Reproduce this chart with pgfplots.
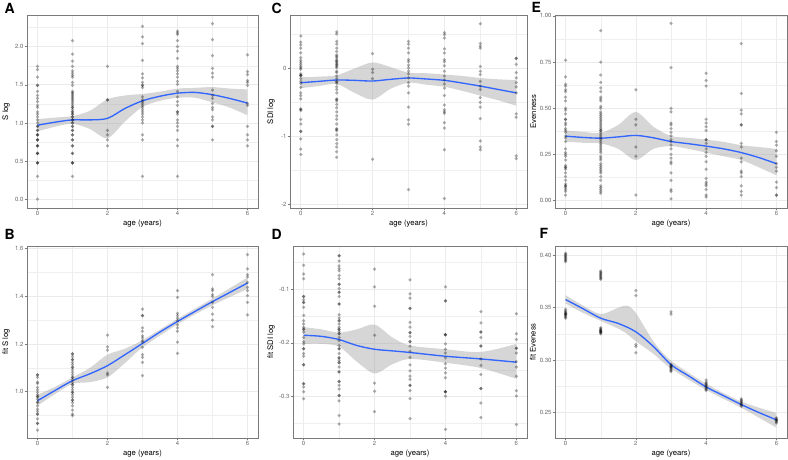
\documentclass[border=0pt]{standalone}
\usepackage{fontspec}
\setmainfont{TeX Gyre Heros}
\usepackage{pgfplots}
\pgfplotsset{compat=1.18}
\usepgfplotslibrary{fillbetween}
\definecolor{smoothblue}{HTML}{3366FF}
\definecolor{gridgray}{HTML}{EBEBEB}
\definecolor{bordergray}{HTML}{7A7A7A}
\definecolor{ticktext}{HTML}{6A6A6A}
\pgfplotsset{
  panel/.style={
    scale only axis, anchor=south west,
    xmin=-0.3, xmax=6.3,
    xtick={0,2,4,6}, xticklabels={0,2,4,6},
    minor xtick={1,3,5},
    grid=both,
    major grid style={draw=gridgray, line width=0.6pt},
    minor grid style={draw=gridgray!80, line width=0.35pt},
    axis line style={draw=bordergray, line width=0.65pt},
    tick style={draw=bordergray, line width=0.5pt},
    tick align=outside, major tick length=2.5pt, minor tick length=0pt,
    tick pos=left,
    tick label style={font=\fontsize{6}{6}\selectfont, text=ticktext, inner sep=0.8pt},
    label style={font=\fontsize{7.7}{8}\selectfont, text=black},
    xlabel={age (years)},
    xlabel style={at={(axis description cs:0.5,0)}, anchor=center, yshift=-15.5pt},
  },
  pts/.style={only marks, mark=*, mark size=1.75pt, color=black, mark options={draw opacity=0, fill=black, fill opacity=0.32}},
  fit/.style={smooth, draw=smoothblue, line width=1.35pt},
  band/.style={fill=black!40, fill opacity=0.4, draw=none},
  bound/.style={smooth, draw=none, forget plot},
}
\newcommand{\plab}[3]{\node[anchor=base west, inner sep=0pt, font=\fontsize{14}{14}\selectfont\bfseries] at (#1pt,#2pt) {#3};}
\begin{document}
\begin{tikzpicture}
% ---------------- A ----------------
\begin{axis}[panel, at={(27pt,252pt)}, width=231pt, height=193pt,
  ymin=-0.115, ymax=2.415,
  ytick={0,0.5,1,1.5,2}, yticklabels={0.0,0.5,1.0,1.5,2.0},
  minor ytick={0.25,0.75,1.25,1.75,2.25},
  ylabel={S log}, ylabel style={at={(axis description cs:-0.091,0.5)}, anchor=center}]
\addplot[pts] coordinates {
(0,0)(0,0.301)(0,0.477)(0,0.477)(0,0.477)(0,0.602)(0,0.602)(0,0.602)(0,0.699)(0,0.699)(0,0.699)(0,0.778)(0,0.778)(0,0.778)(0,0.845)(0,0.845)(0,0.845)(0,0.903)(0,0.903)(0,0.954)(0,0.954)(0,1.0)(0,1.041)(0,1.079)(0,1.114)(0,1.146)(0,1.204)(0,1.23)(0,1.279)(0,1.322)(0,1.362)(0,1.415)(0,1.491)(0,1.491)(0,1.602)(0,1.699)(0,1.74)
(1,0.301)(1,0.477)(1,0.477)(1,0.477)(1,0.602)(1,0.602)(1,0.699)(1,0.699)(1,0.778)(1,0.778)(1,0.845)(1,0.845)(1,0.903)(1,0.903)(1,0.954)(1,0.954)(1,1.0)(1,1.0)(1,1.041)(1,1.041)(1,1.079)(1,1.079)(1,1.114)(1,1.114)(1,1.146)(1,1.146)(1,1.176)(1,1.204)(1,1.204)(1,1.23)(1,1.255)(1,1.279)(1,1.301)(1,1.322)(1,1.342)(1,1.362)(1,1.38)(1,1.398)(1,1.415)(1,1.491)(1,1.531)(1,1.602)(1,1.623)(1,1.653)(1,1.681)(1,1.74)(1,1.81)(1,1.903)(1,2.079)
(2,0.699)(2,0.778)(2,0.845)(2,0.903)(2,1.301)(2,1.301)(2,1.74)
(3,0.301)(3,0.778)(3,0.845)(3,1.0)(3,1.041)(3,1.079)(3,1.114)(3,1.146)(3,1.176)(3,1.204)(3,1.23)(3,1.255)(3,1.279)(3,1.301)(3,1.342)(3,1.462)(3,1.491)(3,1.491)(3,1.531)(3,1.591)(3,1.643)(3,1.82)(3,2.041)(3,2.127)(3,2.267)
(4,0.301)(4,0.699)(4,0.778)(4,0.903)(4,0.954)(4,1.0)(4,1.041)(4,1.114)(4,1.146)(4,1.146)(4,1.23)(4,1.279)(4,1.342)(4,1.415)(4,1.505)(4,1.544)(4,1.602)(4,1.643)(4,1.681)(4,1.716)(4,1.74)(4,1.845)(4,1.94)(4,2.0)(4,2.079)(4,2.161)(4,2.182)(4,2.204)
(5,0.778)(5,0.954)(5,0.954)(5,1.041)(5,1.079)(5,1.176)(5,1.204)(5,1.255)(5,1.322)(5,1.362)(5,1.431)(5,1.602)(5,1.653)(5,1.716)(5,1.881)(5,2.093)(5,2.301)
(6,0.699)(6,0.778)(6,0.845)(6,0.954)(6,1.23)(6,1.255)(6,1.491)(6,1.531)(6,1.556)(6,1.633)(6,1.672)(6,1.892)
};
\addplot[bound, name path=au] coordinates {(0,1.05)(0.5,1.07)(1,1.09)(1.5,1.16)(2,1.31)(2.5,1.36)(3,1.38)(3.5,1.41)(4,1.45)(4.5,1.46)(5,1.47)(5.5,1.45)(6,1.44)};
\addplot[bound, name path=al] coordinates {(0,0.89)(0.5,0.95)(1,0.99)(1.5,0.92)(2,0.80)(2.5,1.02)(3,1.21)(3.5,1.29)(4,1.33)(4.5,1.33)(5,1.27)(5.5,1.2)(6,1.10)};
\addplot[band] fill between[of=au and al];
\addplot[fit] coordinates {(0,0.97)(0.5,1.01)(1,1.04)(1.5,1.04)(2,1.06)(2.5,1.19)(3,1.29)(3.5,1.35)(4,1.39)(4.5,1.40)(5,1.37)(5.5,1.32)(6,1.26)};
\end{axis}
% ---------------- C ----------------
\begin{axis}[panel, at={(290pt,252pt)}, width=237pt, height=193pt,
  ymin=-2.06, ymax=0.79,
  ytick={-2,-1,0}, yticklabels={-2,-1,0},
  minor ytick={-1.5,-0.5,0.5},
  ylabel={SDI log}, ylabel style={at={(axis description cs:-0.080,0.5)}, anchor=center}]
\addplot[pts] coordinates {
(0,0.48)(0,0.39)(0,0.35)(0,0.3)(0,0.23)(0,0.16)(0,0.12)(0,0.09)(0,0.06)(0,0.03)(0,0.01)(0,-0.01)(0,-0.08)(0,-0.1)(0,-0.1)(0,-0.11)(0,-0.15)(0,-0.19)(0,-0.22)(0,-0.28)(0,-0.36)(0,-0.4)(0,-0.45)(0,-0.6)(0,-0.6)(0,-0.62)(0,-0.75)(0,-0.82)(0,-0.93)(0,-0.93)(0,-1.04)(0,-1.19)(0,-1.27)
(1,0.54)(1,0.51)(1,0.4)(1,0.36)(1,0.3)(1,0.25)(1,0.2)(1,0.18)(1,0.16)(1,0.13)(1,0.11)(1,0.1)(1,0.08)(1,0.06)(1,0.05)(1,0.03)(1,0.01)(1,-0.04)(1,-0.06)(1,-0.11)(1,-0.15)(1,-0.19)(1,-0.2)(1,-0.22)(1,-0.27)(1,-0.31)(1,-0.36)(1,-0.45)(1,-0.46)(1,-0.48)(1,-0.53)(1,-0.58)(1,-0.64)(1,-0.7)(1,-0.75)(1,-0.82)(1,-0.89)(1,-0.9)(1,-0.92)(1,-0.98)(1,-1.05)(1,-1.11)(1,-1.16)(1,-1.23)(1,-1.31)
(2,0.22)(2,-0.01)(2,-0.06)(2,-0.15)(2,-1.34)
(3,0.4)(3,0.36)(3,0.3)(3,0.23)(3,0.13)(3,0.1)(3,0.05)(3,0.01)(3,-0.04)(3,-0.08)(3,-0.14)(3,-0.21)(3,-0.26)(3,-0.36)(3,-0.57)(3,-0.76)(3,-0.82)(3,-1.79)
(4,0.53)(4,0.5)(4,0.45)(4,0.29)(4,0.23)(4,0.13)(4,0.1)(4,0.04)(4,-0.04)(4,-0.11)(4,-0.17)(4,-0.23)(4,-0.29)(4,-0.4)(4,-0.54)(4,-0.61)(4,-0.64)(4,-0.66)(4,-0.8)(4,-0.88)(4,-1.2)(4,-1.92)
(5,0.66)(5,0.37)(5,0.33)(5,0.3)(5,0.03)(5,-0.04)(5,-0.09)(5,-0.19)(5,-0.26)(5,-0.31)(5,-0.43)(5,-0.5)(5,-0.57)(5,-0.74)(5,-1.07)(5,-1.16)(5,-1.2)
(6,0.15)(6,0.15)(6,0.06)(6,-0.06)(6,-0.14)(6,-0.21)(6,-0.27)(6,-0.36)(6,-0.67)(6,-0.72)(6,-1.29)(6,-1.33)
};
\addplot[bound, name path=cu] coordinates {(0,-0.13)(0.5,-0.12)(1,-0.1)(1.5,0.0)(2,0.09)(2.5,0.02)(3,-0.06)(3.5,-0.07)(4,-0.09)(4.5,-0.11)(5,-0.14)(5.5,-0.16)(6,-0.17)};
\addplot[bound, name path=cl] coordinates {(0,-0.29)(0.5,-0.26)(1,-0.23)(1.5,-0.36)(2,-0.46)(2.5,-0.3)(3,-0.21)(3.5,-0.24)(4,-0.27)(4.5,-0.33)(5,-0.4)(5.5,-0.47)(6,-0.55)};
\addplot[band] fill between[of=cu and cl];
\addplot[fit] coordinates {(0,-0.21)(0.5,-0.19)(1,-0.17)(1.5,-0.175)(2,-0.185)(2.5,-0.16)(3,-0.14)(3.5,-0.155)(4,-0.175)(4.5,-0.215)(5,-0.26)(5.5,-0.31)(6,-0.36)};
\end{axis}
% ---------------- E ----------------
\begin{axis}[panel, at={(555pt,252pt)}, width=232pt, height=193pt,
  ymin=-0.04, ymax=1.005,
  ytick={0,0.25,0.5,0.75,1}, yticklabels={0.00,0.25,0.50,0.75,1.00},
  minor ytick={0.125,0.375,0.625,0.875},
  ylabel={Evenness}, ylabel style={at={(axis description cs:-0.093,0.5)}, anchor=center}]
\addplot[pts] coordinates {
(0,0.76)(0,0.67)(0,0.63)(0,0.62)(0,0.6)(0,0.59)(0,0.56)(0,0.54)(0,0.5)(0,0.49)(0,0.47)(0,0.44)(0,0.44)(0,0.42)(0,0.41)(0,0.39)(0,0.38)(0,0.37)(0,0.35)(0,0.34)(0,0.32)(0,0.28)(0,0.26)(0,0.25)(0,0.24)(0,0.22)(0,0.19)(0,0.18)(0,0.18)(0,0.17)(0,0.15)(0,0.13)(0,0.11)(0,0.09)(0,0.08)(0,0.08)(0,0.07)(0,0.06)(0,0.05)(0,0.03)
(1,0.92)(1,0.75)(1,0.68)(1,0.64)(1,0.61)(1,0.59)(1,0.56)(1,0.55)(1,0.54)(1,0.51)(1,0.5)(1,0.48)(1,0.47)(1,0.46)(1,0.45)(1,0.44)(1,0.43)(1,0.42)(1,0.41)(1,0.4)(1,0.39)(1,0.38)(1,0.38)(1,0.37)(1,0.36)(1,0.35)(1,0.34)(1,0.33)(1,0.32)(1,0.31)(1,0.3)(1,0.29)(1,0.28)(1,0.27)(1,0.26)(1,0.24)(1,0.23)(1,0.22)(1,0.2)(1,0.19)(1,0.18)(1,0.17)(1,0.16)(1,0.15)(1,0.13)(1,0.11)(1,0.08)(1,0.07)(1,0.06)(1,0.05)(1,0.04)
(2,0.6)(2,0.44)(2,0.41)(2,0.29)(2,0.24)(2,0.03)
(3,0.96)(3,0.72)(3,0.5)(3,0.48)(3,0.42)(3,0.41)(3,0.39)(3,0.37)(3,0.35)(3,0.33)(3,0.32)(3,0.3)(3,0.28)(3,0.25)(3,0.23)(3,0.21)(3,0.2)(3,0.15)(3,0.11)(3,0.06)(3,0.05)(3,0.01)
(4,0.69)(4,0.65)(4,0.62)(4,0.44)(4,0.42)(4,0.4)(4,0.38)(4,0.33)(4,0.33)(4,0.31)(4,0.28)(4,0.26)(4,0.24)(4,0.21)(4,0.17)(4,0.12)(4,0.1)(4,0.09)(4,0.08)(4,0.06)(4,0.03)(4,0.02)
(5,0.85)(5,0.58)(5,0.49)(5,0.47)(5,0.41)(5,0.41)(5,0.31)(5,0.29)(5,0.23)(5,0.21)(5,0.16)(5,0.15)(5,0.13)(5,0.08)(5,0.05)(5,0.03)
(6,0.37)(6,0.32)(6,0.3)(6,0.27)(6,0.24)(6,0.2)(6,0.18)(6,0.16)(6,0.1)(6,0.07)(6,0.03)(6,0.03)
};
\addplot[bound, name path=eu] coordinates {(0,0.38)(0.5,0.372)(1,0.367)(1.5,0.41)(2,0.48)(2.5,0.40)(3,0.35)(3.5,0.34)(4,0.33)(4.5,0.318)(5,0.30)(5.5,0.29)(6,0.28)};
\addplot[bound, name path=el] coordinates {(0,0.32)(0.5,0.313)(1,0.31)(1.5,0.28)(2,0.22)(2.5,0.28)(3,0.295)(3.5,0.28)(4,0.26)(4.5,0.24)(5,0.22)(5.5,0.18)(6,0.137)};
\addplot[band] fill between[of=eu and el];
\addplot[fit] coordinates {(0,0.349)(0.5,0.342)(1,0.338)(1.5,0.345)(2,0.353)(2.5,0.34)(3,0.32)(3.5,0.308)(4,0.295)(4.5,0.28)(5,0.26)(5.5,0.233)(6,0.2)};
\end{axis}
% ---------------- B ----------------
\begin{axis}[panel, at={(27pt,22pt)}, width=231pt, height=192pt,
  ymin=0.806, ymax=1.61,
  ytick={1,1.2,1.4,1.6}, yticklabels={1.0,1.2,1.4,1.6},
  minor ytick={0.9,1.1,1.3,1.5},
  ylabel={fit S log}, ylabel style={at={(axis description cs:-0.091,0.5)}, anchor=center}]
\addplot[pts] coordinates {
(0,1.07)(0,1.07)(0,1.06)(0,1.04)(0,1.035)(0,1.018)(0,1.008)(0,0.997)(0,0.987)(0,0.979)(0,0.979)(0,0.969)(0,0.955)(0,0.955)(0,0.941)(0,0.927)(0,0.918)(0,0.906)(0,0.906)(0,0.886)(0,0.867)(0,0.867)(0,0.839)
(1,1.158)(1,1.158)(1,1.147)(1,1.134)(1,1.134)(1,1.123)(1,1.113)(1,1.102)(1,1.102)(1,1.091)(1,1.081)(1,1.07)(1,1.06)(1,1.06)(1,1.049)(1,1.039)(1,1.029)(1,1.029)(1,1.018)(1,1.007)(1,0.997)(1,0.997)(1,0.987)(1,0.976)(1,0.965)(1,0.965)(1,0.954)(1,0.941)(1,0.923)(1,0.906)(1,0.9)
(2,1.237)(2,1.188)(2,1.174)(2,1.078)(2,1.07)(2,1.018)
(3,1.346)(3,1.318)(3,1.318)(3,1.267)(3,1.253)(3,1.234)(3,1.225)(3,1.214)(3,1.207)(3,1.186)(3,1.155)(3,1.144)(3,1.123)(3,1.067)
(4,1.423)(4,1.395)(4,1.328)(4,1.318)(4,1.308)(4,1.297)(4,1.28)(4,1.267)(4,1.253)(4,1.207)(4,1.16)
(5,1.49)(5,1.43)(5,1.423)(5,1.406)(5,1.398)(5,1.374)(5,1.353)(5,1.325)(5,1.3)(5,1.272)
(6,1.574)(6,1.514)(6,1.49)(6,1.481)(6,1.458)(6,1.437)(6,1.423)(6,1.402)(6,1.374)(6,1.322)
};
\addplot[bound, name path=bu] coordinates {(0,0.987)(0.5,1.02)(1,1.06)(1.5,1.1)(2,1.155)(2.5,1.18)(3,1.216)(4,1.305)(5,1.39)(6,1.478)};
\addplot[bound, name path=bl] coordinates {(0,0.941)(0.5,0.99)(1,1.033)(1.5,1.04)(2,1.06)(2.5,1.12)(3,1.185)(4,1.282)(5,1.362)(6,1.43)};
\addplot[band] fill between[of=bu and bl];
\addplot[fit] coordinates {(0,0.962)(0.5,1.005)(1,1.046)(1.5,1.075)(2,1.109)(2.5,1.155)(3,1.202)(3.5,1.25)(4,1.294)(4.5,1.336)(5,1.377)(5.5,1.416)(6,1.455)};
\end{axis}
% ---------------- D ----------------
\begin{axis}[panel, at={(293pt,22pt)}, width=234pt, height=192pt,
  ymin=-0.377, ymax=-0.02,
  ytick={-0.3,-0.2,-0.1}, yticklabels={-0.3,-0.2,-0.1},
  minor ytick={-0.35,-0.25,-0.15,-0.05},
  ylabel={fit SDI log}, ylabel style={at={(axis description cs:-0.094,0.5)}, anchor=center}]
\addplot[pts] coordinates {
(0,-0.035)(0,-0.056)(0,-0.072)(0,-0.081)(0,-0.114)(0,-0.114)(0,-0.12)(0,-0.125)(0,-0.125)(0,-0.134)(0,-0.149)(0,-0.159)(0,-0.165)(0,-0.171)(0,-0.175)(0,-0.175)(0,-0.18)(0,-0.19)(0,-0.198)(0,-0.202)(0,-0.211)(0,-0.211)(0,-0.22)(0,-0.225)(0,-0.241)(0,-0.241)(0,-0.276)(0,-0.276)(0,-0.282)(0,-0.291)(0,-0.304)
(1,-0.038)(1,-0.038)(1,-0.048)(1,-0.057)(1,-0.062)(1,-0.066)(1,-0.075)(1,-0.081)(1,-0.091)(1,-0.091)(1,-0.099)(1,-0.106)(1,-0.106)(1,-0.114)(1,-0.128)(1,-0.128)(1,-0.148)(1,-0.154)(1,-0.159)(1,-0.159)(1,-0.165)(1,-0.171)(1,-0.175)(1,-0.175)(1,-0.179)(1,-0.183)(1,-0.183)(1,-0.19)(1,-0.196)(1,-0.205)(1,-0.211)(1,-0.211)(1,-0.22)(1,-0.228)(1,-0.228)(1,-0.233)(1,-0.237)(1,-0.237)(1,-0.245)(1,-0.254)(1,-0.254)(1,-0.272)(1,-0.272)(1,-0.279)(1,-0.286)(1,-0.298)(1,-0.298)(1,-0.308)(1,-0.335)(1,-0.351)
(2,-0.063)(2,-0.096)(2,-0.132)(2,-0.186)(2,-0.275)(2,-0.29)(2,-0.328)
(3,-0.083)(3,-0.109)(3,-0.117)(3,-0.136)(3,-0.136)(3,-0.162)(3,-0.171)(3,-0.181)(3,-0.181)(3,-0.188)(3,-0.198)(3,-0.198)(3,-0.206)(3,-0.216)(3,-0.227)(3,-0.241)(3,-0.252)(3,-0.262)(3,-0.268)(3,-0.279)(3,-0.279)(3,-0.289)(3,-0.304)(3,-0.341)
(4,-0.096)(4,-0.122)(4,-0.122)(4,-0.185)(4,-0.185)(4,-0.185)(4,-0.202)(4,-0.212)(4,-0.219)(4,-0.228)(4,-0.239)(4,-0.247)(4,-0.256)(4,-0.265)(4,-0.291)(4,-0.291)(4,-0.291)(4,-0.299)(4,-0.361)
(5,-0.142)(5,-0.163)(5,-0.18)(5,-0.18)(5,-0.19)(5,-0.206)(5,-0.206)(5,-0.23)(5,-0.242)(5,-0.259)(5,-0.285)(5,-0.285)(5,-0.312)(5,-0.339)
(6,-0.146)(6,-0.183)(6,-0.194)(6,-0.21)(6,-0.21)(6,-0.219)(6,-0.235)(6,-0.245)(6,-0.262)(6,-0.289)(6,-0.299)(6,-0.352)
};
\addplot[bound, name path=du] coordinates {(0,-0.171)(0.5,-0.175)(1,-0.181)(1.5,-0.175)(2,-0.166)(2.5,-0.19)(3,-0.205)(4,-0.212)(5,-0.217)(6,-0.202)};
\addplot[bound, name path=dl] coordinates {(0,-0.202)(0.5,-0.202)(1,-0.207)(1.5,-0.235)(2,-0.257)(2.5,-0.24)(3,-0.23)(4,-0.237)(5,-0.247)(6,-0.267)};
\addplot[band] fill between[of=du and dl];
\addplot[fit] coordinates {(0,-0.186)(0.5,-0.188)(1,-0.194)(1.5,-0.205)(2,-0.212)(2.5,-0.215)(3,-0.218)(4,-0.225)(5,-0.23)(6,-0.236)};
\end{axis}
% ---------------- F ----------------
\begin{axis}[panel, at={(555pt,22pt)}, width=232pt, height=192pt,
  ymin=0.2257, ymax=0.4089,
  ytick={0.25,0.3,0.35,0.4}, yticklabels={0.25,0.30,0.35,0.40},
  minor ytick={0.275,0.325,0.375},
  ylabel={fit Eveness}, ylabel style={at={(axis description cs:-0.095,0.5)}, anchor=center}]
\addplot[pts] coordinates {
(0,0.402)(0,0.401)(0,0.400)(0,0.399)(0,0.398)(0,0.397)(0,0.396)(0,0.395)(0,0.394)(0,0.3485)(0,0.347)(0,0.346)(0,0.345)(0,0.344)(0,0.343)(0,0.342)(0,0.341)(0,0.340)(0,0.3445)(0,0.3435)
(1,0.385)(1,0.384)(1,0.383)(1,0.382)(1,0.381)(1,0.380)(1,0.379)(1,0.378)(1,0.377)(1,0.331)(1,0.330)(1,0.329)(1,0.328)(1,0.327)(1,0.326)(1,0.325)(1,0.3285)(1,0.3275)(1,0.3265)
(2,0.3665)(2,0.3616)(2,0.315)(2,0.313)(2,0.307)
(3,0.346)(3,0.344)(3,0.296)(3,0.295)(3,0.294)(3,0.293)(3,0.292)(3,0.291)(3,0.290)(3,0.289)(3,0.2935)
(4,0.281)(4,0.279)(4,0.278)(4,0.277)(4,0.276)(4,0.275)(4,0.274)(4,0.273)(4,0.272)(4,0.271)
(5,0.263)(5,0.262)(5,0.261)(5,0.260)(5,0.259)(5,0.258)(5,0.257)(5,0.256)
(6,0.245)(6,0.244)(6,0.243)(6,0.242)(6,0.241)(6,0.240)(6,0.2425)
};
\addplot[bound, name path=fu] coordinates {(0,0.362)(0.5,0.352)(1,0.344)(1.5,0.350)(1.75,0.352)(2,0.345)(2.5,0.318)(3,0.2995)(4,0.2775)(5,0.2605)(6,0.2495)};
\addplot[bound, name path=fl] coordinates {(0,0.354)(0.5,0.345)(1,0.3375)(1.5,0.330)(1.75,0.325)(2,0.318)(2.5,0.306)(3,0.292)(4,0.2715)(5,0.2545)(6,0.2355)};
\addplot[band] fill between[of=fu and fl];
\addplot[fit] coordinates {(0,0.3578)(0.5,0.349)(1,0.340)(1.5,0.335)(2,0.327)(2.5,0.313)(3,0.2957)(3.5,0.285)(4,0.2744)(4.5,0.266)(5,0.2576)(5.5,0.25)(6,0.243)};
\end{axis}
\plab{4.5}{446.5}{A}
\plab{4.5}{220}{B}
\plab{271.5}{446.5}{C}
\plab{271.5}{220}{D}
\plab{531.5}{447}{E}
\plab{539.5}{221}{F}
\pgfresetboundingbox
\useasboundingbox (0pt,0pt) rectangle (788pt,460pt);
\end{tikzpicture}
\end{document}
